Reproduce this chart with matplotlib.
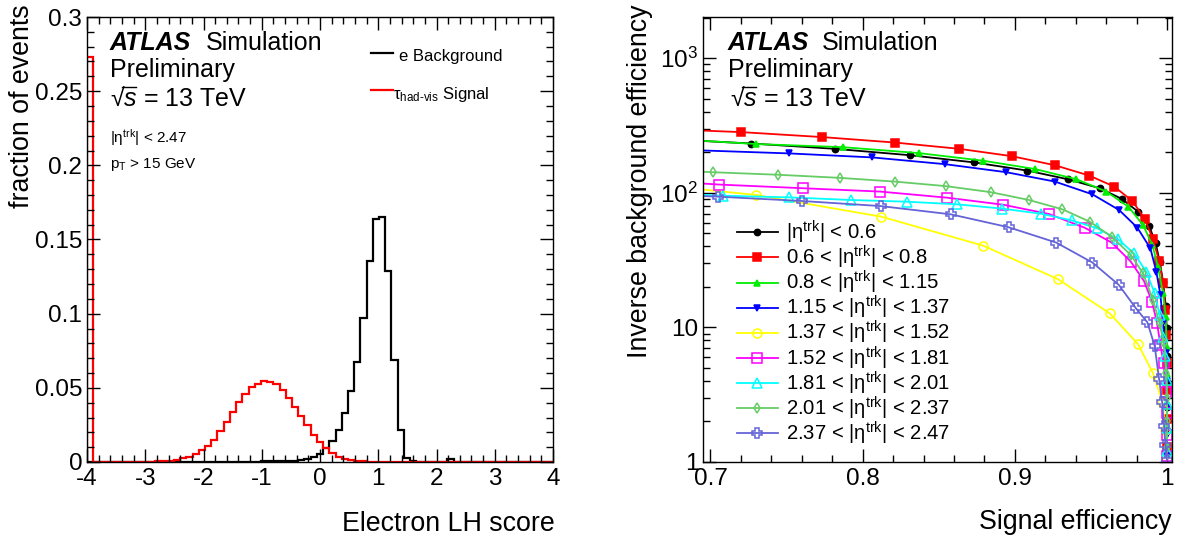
import numpy as np
import matplotlib
matplotlib.use('Agg')
import matplotlib.pyplot as plt
from matplotlib.ticker import MultipleLocator, FixedLocator, LogLocator, NullFormatter, FuncFormatter
from matplotlib.lines import Line2D

plt.rcParams['font.family'] = ['Liberation Sans', 'DejaVu Sans']
plt.rcParams['mathtext.fontset'] = 'custom'
plt.rcParams['mathtext.rm'] = 'Liberation Sans'
plt.rcParams['mathtext.it'] = 'Liberation Sans:italic'
plt.rcParams['mathtext.bf'] = 'Liberation Sans:bold'
plt.rcParams['axes.unicode_minus'] = False

# ---------------- data: left panel (75 bins from -4 to 4) ----------------
lh_lo, lh_hi, lh_nbins = -4.0, 4.0, 75
bkg_frac = [0, 0, 0, 0, 0, 0, 0, 0, 0, 0,
            0, 0, 0, 0, 0, 0, 0, 0, 0, 0,
            0, 0, 0.0001, 0.0001, 0.0001, 0.0002, 0.0002, 0.0003, 0.0004, 0.0005,
            0.0006, 0.0007, 0.0008, 0.0010, 0.0013, 0.0020, 0.0034, 0.0054, 0.0094, 0.0140,
            0.0218, 0.0328, 0.0477, 0.0672, 0.0970, 0.1353, 0.1640, 0.1652, 0.1290, 0.0688,
            0.0214, 0.0027, 0.0005, 0.0002, 0.0001, 0, 0, 0, 0.0020, 0,
            0, 0, 0, 0, 0, 0, 0, 0, 0, 0,
            0, 0, 0, 0, 0]
sig_frac = [0.273, 0, 0, 0, 0, 0.0001, 0.0001, 0.0002, 0.0002, 0.0003,
            0.0003, 0.0004, 0.0005, 0.0009, 0.0016, 0.0027, 0.0036, 0.0054, 0.0079, 0.0110,
            0.0148, 0.0207, 0.0270, 0.0337, 0.0405, 0.0461, 0.0503, 0.0528, 0.0544, 0.0539,
            0.0526, 0.0483, 0.0432, 0.0373, 0.0310, 0.0247, 0.0181, 0.0134, 0.0094, 0.0058,
            0.0034, 0.0020, 0.0013, 0.0007, 0.0004, 0.0003, 0.0002, 0.0001, 0, 0,
            0, 0, 0, 0, 0, 0, 0, 0, 0, 0,
            0, 0, 0, 0, 0, 0, 0, 0, 0, 0,
            0, 0, 0, 0, 0]
left_xticks = [-4, -3, -2, -1, 0, 1, 2, 3, 4]
left_xticklabels = ['-4', '-3', '-2', '-1', '0', '1', '2', '3', '4']
left_yticks = [0, 0.05, 0.1, 0.15, 0.2, 0.25, 0.3]
left_yticklabels = ['0', '0.05', '0.1', '0.15', '0.2', '0.25', '0.3']

# ---------------- data: right panel (ROC curves per eta bin) ----------------
roc_labels = ['|η$^{\\mathrm{trk}}$| < 0.6',
              '0.6 < |η$^{\\mathrm{trk}}$| < 0.8',
              '0.8 < |η$^{\\mathrm{trk}}$| < 1.15',
              '1.15 < |η$^{\\mathrm{trk}}$| < 1.37',
              '1.37 < |η$^{\\mathrm{trk}}$| < 1.52',
              '1.52 < |η$^{\\mathrm{trk}}$| < 1.81',
              '1.81 < |η$^{\\mathrm{trk}}$| < 2.01',
              '2.01 < |η$^{\\mathrm{trk}}$| < 2.37',
              '2.37 < |η$^{\\mathrm{trk}}$| < 2.47']

eff_eta1 = [0.69, 0.7269, 0.7817, 0.8310, 0.8732, 0.9083, 0.9348, 0.9558, 0.9705, 0.9810, 0.9882,
            0.9926, 0.9952, 0.9974, 0.9992, 0.9998, 1.0, 1.0, 1.0, 1.0, 1.0]
rej_eta1 = [244, 232, 212, 190, 168, 146, 126, 108, 89.8, 72.3, 56.9,
            42.1, 30.8, 21.9, 14.4, 9.9, 6.1, 3.96, 2.58, 1.74, 1.17]

eff_eta2 = [0.69, 0.7203, 0.7736, 0.8211, 0.8634, 0.8980, 0.9264, 0.9490, 0.9654, 0.9773, 0.9854,
            0.9908, 0.9948, 0.9974, 0.9990, 0.9996, 1.0, 1.0, 1.0, 1.0]
rej_eta2 = [291, 282, 259, 236, 212, 187, 160, 134, 111, 86.7, 63.8,
            45.1, 31.3, 21.5, 13.5, 8.8, 5.4, 3.4, 2.1, 1.3]

eff_eta3 = [0.69, 0.7302, 0.7871, 0.8369, 0.8791, 0.9133, 0.9405, 0.9602, 0.9746, 0.9843, 0.9904,
            0.9941, 0.9974, 0.9992, 0.9998, 1.0, 1.0, 1.0, 1.0]
rej_eta3 = [245, 230, 218, 197, 173, 150, 126, 102, 78.8, 57.5, 40.9,
            28.3, 17.9, 12.0, 7.2, 4.5, 2.8, 1.8, 1.2]

eff_eta4 = [0.69, 0.7514, 0.8062, 0.8542, 0.8945, 0.9264, 0.9510, 0.9685, 0.9805, 0.9891, 0.9930,
            0.9957, 0.9974, 0.9992, 1.0, 1.0, 1.0, 1.0]
rej_eta4 = [207, 196, 183, 163, 142, 121, 97.3, 74.5, 55.1, 38.6, 25.9,
            17.4, 10.7, 6.4, 4.0, 2.5, 1.6, 1.1]

eff_eta5 = [0.69, 0.7302, 0.8123, 0.8791, 0.9284, 0.9624, 0.9810, 0.9908, 0.9970, 0.9990, 1.0]
rej_eta5 = [107, 96.2, 66.4, 40.5, 22.8, 12.7, 7.5, 4.57, 2.79, 1.74, 1.05]

eff_eta6 = [0.69, 0.7057, 0.7609, 0.8115, 0.8555, 0.8923, 0.9225, 0.9459, 0.9637, 0.9762, 0.9849,
            0.9902, 0.9935, 0.9957, 0.9978, 0.9993, 1.0, 1.0, 1.0]
rej_eta6 = [118, 115, 108, 102, 91.9, 81.5, 69.5, 55.0, 42.6, 30.8, 22.1,
            15.5, 10.7, 7.4, 5.4, 3.3, 2.3, 1.6, 1.1]

eff_eta7 = [0.69, 0.7083, 0.7517, 0.7926, 0.8292, 0.8623, 0.8918, 0.9170, 0.9374, 0.9543, 0.9678,
            0.9783, 0.9864, 0.9919, 0.9952, 0.9974, 0.9990, 0.9998, 1.0, 1.0, 1.0]
rej_eta7 = [97, 95.0, 92.4, 88.3, 85.8, 82.0, 76.2, 69.9, 62.3, 54.4, 45.1,
            35.5, 25.9, 17.9, 12.4, 8.5, 6.1, 4.1, 2.7, 1.8, 1.2]

eff_eta8 = [0.69, 0.7017, 0.7444, 0.7850, 0.8211, 0.8546, 0.8842, 0.9094, 0.9313, 0.9492, 0.9641,
            0.9762, 0.9843, 0.9908, 0.9952, 0.9978, 0.9996, 1.0, 1.0, 1.0]
rej_eta8 = [144, 142, 136, 129, 121, 112, 101, 88.3, 75.3, 61.0, 46.7,
            34.5, 25.2, 16.0, 10.7, 7.6, 4.6, 3.0, 2.0, 1.3]

eff_eta9 = [0.69, 0.7050, 0.7604, 0.8119, 0.8581, 0.8960, 0.9273, 0.9510, 0.9683, 0.9795, 0.9871,
            0.9919, 0.9948, 0.9968, 0.9981, 0.9990, 1.0]
rej_eta9 = [95, 93.5, 86.8, 79.6, 69.1, 55.4, 42.6, 30.3, 20.7, 13.9, 10.9,
            7.3, 4.15, 2.8, 1.84, 1.34, 1.04]

right_xticks = [0.7, 0.8, 0.9, 1.0]
right_xticklabels = ['0.7', '0.8', '0.9', '1']
right_yticks = [1, 10, 100, 1000]
right_yticklabels = ['1', '10', '$10^{2}$', '$10^{3}$']

# ---------------- figure ----------------
W, H = 1182, 543
fig = plt.figure(figsize=(W / 100, H / 100), dpi=100)


def px_rect(x0, y0, x1, y1):
    return [x0 / W, 1 - y1 / H, (x1 - x0) / W, (y1 - y0) / H]


def ftext(x, y, s, **kw):
    return fig.text(x / W, 1 - y / H, s, **kw)


TICK_FS = 17.5
LABEL_FS = 19.3
ATLAS_FS = 18


def sqrt_s_label(x, y):
    # "√s = 13 TeV" as one text, with the radical's bar continued over the s
    ftext(x, y, '√$\\mathit{s}$ = 13 TeV', fontsize=ATLAS_FS, va='baseline')
    fig.add_artist(Line2D([(x + 12) / W, (x + 25.5) / W], [1 - (y - 19.3) / H, 1 - (y - 19.3) / H],
                          color='black', lw=1.0))


def style_axes(ax):
    for sp in ax.spines.values():
        sp.set_linewidth(1.0)
        sp.set_color('black')
    ax.tick_params(which='both', direction='in', top=True, right=True, width=1.0, colors='black',
                   labelsize=TICK_FS)
    ax.tick_params(which='major', length=9.5)
    ax.tick_params(which='minor', length=5)
    ax.tick_params(axis='x', pad=4.5)
    ax.tick_params(axis='y', pad=3.5)

# ----- left panel -----
axL = fig.add_axes(px_rect(87, 17, 553, 462))
edges = np.linspace(lh_lo, lh_hi, lh_nbins + 1)
axL.stairs(bkg_frac, edges, color='black', lw=1.6, baseline=0)
axL.stairs(sig_frac, edges, color='#ff0000', lw=1.6, baseline=0)
axL.set_xlim(lh_lo, lh_hi)
axL.set_ylim(0, 0.3)
axL.set_xticks(left_xticks)
axL.set_xticklabels(left_xticklabels)
axL.set_yticks(left_yticks)
axL.set_yticklabels(left_yticklabels)
axL.xaxis.set_minor_locator(MultipleLocator(0.2))
axL.yaxis.set_minor_locator(MultipleLocator(0.01))
style_axes(axL)

ftext(22, 4, 'fraction of events', rotation=90, ha='center', va='top', fontsize=LABEL_FS)
ftext(555, 524, 'Electron LH score', ha='right', va='center', fontsize=LABEL_FS)

ftext(110, 50, 'ATLAS', fontsize=ATLAS_FS, fontweight='bold', fontstyle='italic', va='baseline')
ftext(206, 50, 'Simulation', fontsize=ATLAS_FS, va='baseline')
ftext(110, 77, 'Preliminary', fontsize=ATLAS_FS, va='baseline')
sqrt_s_label(110, 106)
ftext(110, 143, '|η$^{\\mathrm{trk}}$| < 2.47', fontsize=11, va='baseline')
ftext(110, 168, 'p$_{\\mathrm{T}}$ > 15 GeV', fontsize=11, va='baseline')

# legend (left)
fig.add_artist(Line2D([371 / W, 393 / W], [1 - 53 / H, 1 - 53 / H], color='black', lw=1.6))
ftext(399, 61, 'e Background', fontsize=12, va='baseline')
fig.add_artist(Line2D([371 / W, 393 / W], [1 - 90 / H, 1 - 90 / H], color='#ff0000', lw=1.6))
ftext(393, 99, 'τ$_{\\mathrm{had\\text{-}vis}}$ Signal', fontsize=12, va='baseline')

# ----- right panel -----
axR = fig.add_axes(px_rect(703, 17, 1172, 462))
series = [
    (eff_eta1, rej_eta1, '#000000', 'o', 'full', 4.5),
    (eff_eta2, rej_eta2, '#ff0000', 's', 'full', 5.5),
    (eff_eta3, rej_eta3, '#00ee00', '^', 'full', 5),
    (eff_eta4, rej_eta4, '#0000ff', 'v', 'full', 5),
    (eff_eta5, rej_eta5, '#ffff00', 'o', 'none', 6.5),
    (eff_eta6, rej_eta6, '#ff00ff', 's', 'none', 6.5),
    (eff_eta7, rej_eta7, '#00ffff', '^', 'none', 6.5),
    (eff_eta8, rej_eta8, '#66cc66', 'd', 'none', 5.5),
    (eff_eta9, rej_eta9, '#6464d8', 'P', 'none', 6.5),
]
for i, ((xs, ys, col, mk, fill, ms), lab) in enumerate(zip(series, roc_labels)):
    mfc = col if fill == 'full' else 'none'
    axR.plot(xs, ys, color=col, lw=1.3, marker=mk, ms=ms, mfc=mfc, mec=col, mew=1.1)
    # manual legend entry
    ly = 232.3 + i * 25.1
    fig.add_artist(Line2D([737 / W, 778 / W], [1 - ly / H, 1 - ly / H], color=col, lw=1.3))
    fig.add_artist(Line2D([757.5 / W], [1 - ly / H], color=col, marker=mk, ms=ms, mfc=mfc,
                          mec=col, mew=1.1, lw=0))
    ftext(786, ly + 7.3, lab, fontsize=14.6, va='baseline')

axR.set_yscale('log')
axR.set_xlim(0.6951, 1.0033)
axR.set_ylim(1, 2020)
axR.set_xticks(right_xticks)
axR.set_xticklabels(right_xticklabels)
axR.xaxis.set_minor_locator(MultipleLocator(0.02))
axR.yaxis.set_major_locator(FixedLocator(right_yticks))
axR.yaxis.set_major_formatter(FuncFormatter(
    lambda v, p: right_yticklabels[right_yticks.index(int(round(v)))] if int(round(v)) in right_yticks else ''))
axR.yaxis.set_minor_locator(LogLocator(base=10, subs=np.arange(2, 10)))
axR.yaxis.set_minor_formatter(NullFormatter())
style_axes(axR)

ftext(640, 4, 'Inverse background efficiency', rotation=90, ha='center', va='top', fontsize=LABEL_FS)
ftext(1172, 522, 'Signal efficiency', ha='right', va='center', fontsize=LABEL_FS)

ftext(728, 50, 'ATLAS', fontsize=ATLAS_FS, fontweight='bold', fontstyle='italic', va='baseline')
ftext(822, 50, 'Simulation', fontsize=ATLAS_FS, va='baseline')
ftext(728, 77, 'Preliminary', fontsize=ATLAS_FS, va='baseline')
sqrt_s_label(730, 106)

fig.savefig('out.png', dpi=100)
